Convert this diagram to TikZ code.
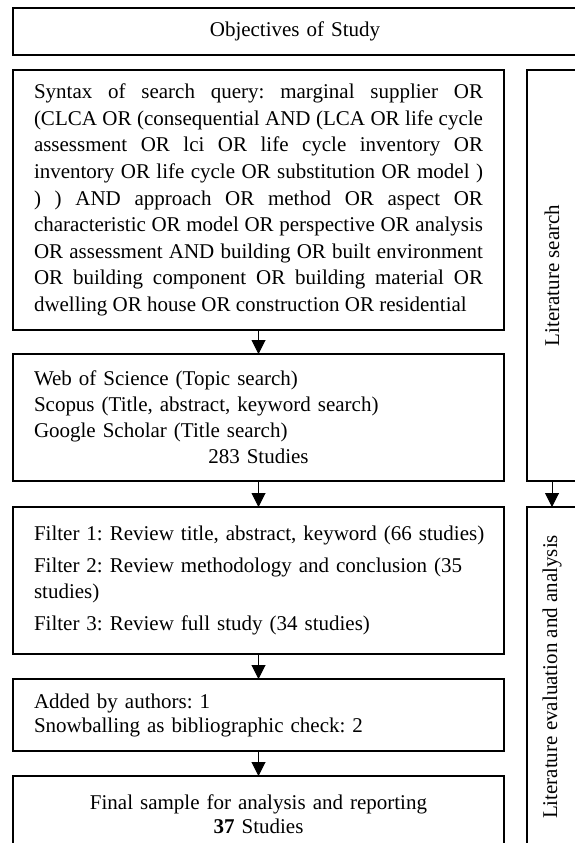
\documentclass[tikz,border=0pt]{standalone}
\usepackage{fontspec}
\setmainfont{Liberation Serif}
\frenchspacing
\usetikzlibrary{arrows.meta, positioning}
\tikzset{
    stage/.style={
        rectangle,
        draw=black,
        line width=1.5pt,
        outer sep=0pt,
        text width=449pt,
        inner xsep=21pt,
        align=left,
        font=\fontsize{21}{26}\selectfont
    },
    phase/.style={
        rectangle,
        draw=black,
        line width=1.5pt,
        outer sep=0pt,
        inner sep=0pt,
        minimum width=50pt
    },
    phaselabel/.style={
        rotate=90,
        font=\fontsize{21}{26}\selectfont
    },
    arrow/.style={
        line width=1pt,
        -{Triangle[length=14pt, width=14pt]}
    },
}

\begin{document}
\begin{tikzpicture}[node distance=25pt]

\fill[white] (0pt,0pt) rectangle (575pt,-843pt);
\useasboundingbox (0pt,0pt) rectangle (575pt,-843pt);

% Objectives
\node[stage, anchor=north west, text width=522pt, align=center, minimum height=47pt] (obj) at (13pt,-8pt) {Objectives of Study};

% Search query
\node[stage, align=justify, font=\fontsize{21}{26.6}\selectfont, minimum height=260pt, below right=15pt and 0pt of obj.south west] (query) {
    Syntax of search query: marginal supplier OR\linebreak
    (CLCA OR (consequential AND (LCA OR life cycle\linebreak
    assessment OR lci OR life cycle inventory OR\linebreak
    inventory OR life cycle OR substitution OR model )\linebreak
    ) ) AND approach OR method OR aspect OR\linebreak
    characteristic OR model OR perspective OR analysis\linebreak
    OR assessment AND building OR built environment\linebreak
    OR building component OR building material OR\linebreak
    dwelling OR house OR construction OR residential
};

% Databases
\node[stage, minimum height=127pt, below=24pt of query] (db) {
    Web of Science (Topic search)\\
    Scopus (Title, abstract, keyword search)\\
    Google Scholar (Title search)\\
    \hspace*{\fill}283 Studies\hspace*{\fill}
};

% Filters
\node[stage, minimum height=147pt, below=26pt of db] (filter) {
    \mbox{Filter 1: Review title, abstract, keyword (66 studies)}\\[6pt]
    Filter 2: Review methodology and conclusion (35\\
    studies)\\[6pt]
    Filter 3: Review full study (34 studies)
};

% Additions
\node[stage, font=\fontsize{21}{24}\selectfont, minimum height=72pt, below=of filter] (added) {
    Added by authors: 1\\
    Snowballing as bibliographic check: 2
};

% Final sample
\node[stage, align=center, font=\fontsize{21}{24}\selectfont, minimum height=76pt, below=of added] (final) {
    Final sample for analysis and reporting\\
    \textbf{37} Studies
};

% Phases
\node[phase, minimum height=411pt, below right=0pt and 23pt of query.north east] (search) {};
\node[phaselabel] (searchlabel) at (search.center) {Literature search};

\node[phase, minimum height=340pt, below=26pt of search] (eval) {};
\node[phaselabel] (evallabel) at (eval.center) {Literature evaluation and analysis};

% Arrows
\draw[arrow] (query) -- (db);
\draw[arrow] (db) -- (filter);
\draw[arrow] (filter) -- (added);
\draw[arrow] (added) -- (final);
\draw[arrow] (search) -- (eval);

\end{tikzpicture}
\end{document}
